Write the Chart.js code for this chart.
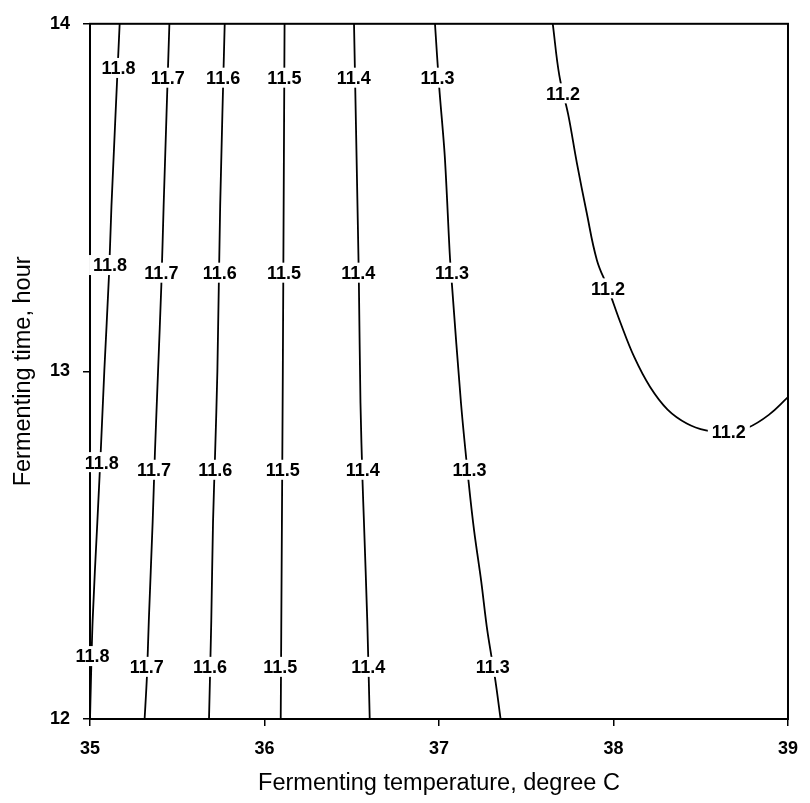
<!DOCTYPE html>
<html>
<head>
<meta charset="utf-8">
<script src="https://cdn.jsdelivr.net/npm/chart.js@4.4.1/dist/chart.umd.min.js"></script>
<style>
  html, body { margin: 0; padding: 0; background: #fff; }
</style>
</head>
<body>
<canvas id="chart" width="810" height="803"></canvas>
<script>
// contour lines (temperature x, time y)
const c118X = [35.170, 35.123, 35.109, 35.082, 35.062, 35.042, 35.015, 35.000];
const c118Y = [14.000, 13.477, 13.278, 13.001, 12.774, 12.566, 12.282, 12.000];
const c117X = [35.455, 35.422, 35.409, 35.390, 35.372, 35.359, 35.337, 35.326, 35.313];
const c117Y = [14.000, 13.477, 13.250, 13.001, 12.765, 12.566, 12.282, 12.120, 12.000];
const c116X = [35.772, 35.746, 35.730, 35.717, 35.705, 35.695, 35.682];
const c116Y = [14.000, 13.477, 13.001, 12.765, 12.566, 12.282, 12.000];
const c115X = [36.115, 36.110, 36.105, 36.099, 36.093];
const c115Y = [14.000, 13.500, 13.000, 12.500, 12.000];
const c114X = [36.513, 36.535, 36.541, 36.550, 36.562, 36.570, 36.589, 36.603];
const c114Y = [14.000, 13.422, 13.251, 12.909, 12.681, 12.566, 12.282, 12.000];
const c113X = [36.977, 37.001, 37.033, 37.062, 37.074, 37.126, 37.170, 37.202, 37.242, 37.277, 37.323, 37.353];
const c113Y = [14.000, 13.819, 13.620, 13.335, 13.251, 12.909, 12.681, 12.539, 12.396, 12.254, 12.111, 12.000];
const c112X = [37.652, 37.690, 37.740, 37.790, 37.845, 37.905, 37.969, 38.040, 38.120, 38.210, 38.310, 38.420, 38.530, 38.655, 38.770, 38.890, 39.000];
const c112Y = [14.000, 13.850, 13.740, 13.600, 13.460, 13.320, 13.239, 13.140, 13.040, 12.955, 12.890, 12.850, 12.830, 12.823, 12.838, 12.875, 12.926];

// contour labels
const labelText = ["11.8", "11.8", "11.8", "11.8",
                   "11.7", "11.7", "11.7", "11.7",
                   "11.6", "11.6", "11.6", "11.6",
                   "11.5", "11.5", "11.5", "11.5",
                   "11.4", "11.4", "11.4", "11.4",
                   "11.3", "11.3", "11.3", "11.3",
                   "11.2", "11.2", "11.2"];
const labelX = [35.163, 35.115, 35.067, 35.014,
                35.445, 35.409, 35.367, 35.325,
                35.763, 35.743, 35.718, 35.688,
                36.114, 36.112, 36.104, 36.090,
                36.511, 36.537, 36.563, 36.594,
                36.992, 37.075, 37.175, 37.308,
                37.711, 37.969, 38.661];
const labelY = [13.873, 13.306, 12.739, 12.181,
                13.845, 13.284, 12.717, 12.150,
                13.845, 13.284, 12.717, 12.150,
                13.845, 13.284, 12.717, 12.150,
                13.845, 13.284, 12.717, 12.150,
                13.845, 13.284, 12.717, 12.150,
                13.800, 13.239, 12.827];

const xTitle = "Fermenting temperature, degree C";
const yTitle = "Fermenting time, hour";

function pts(xs, ys){
  return xs.map((x, i) => ({x: x, y: ys[i]}));
}

function contour(xs, ys, tension){
  return {
    data: pts(xs, ys),
    showLine: true,
    borderColor: "#000",
    borderWidth: 1.8,
    pointRadius: 0,
    tension: tension,
    fill: false
  };
}

const labelPlugin = {
  id: "contourLabels",
  beforeDatasetsDraw(chart){
    const a = chart.chartArea;
    const ctx = chart.ctx;
    ctx.save();
    ctx.strokeStyle = "#000";
    ctx.lineWidth = 2;
    ctx.strokeRect(a.left, a.top, a.right - a.left, a.bottom - a.top);
    ctx.restore();
  },
  afterDatasetsDraw(chart){
    const ctx = chart.ctx;
    const xs = chart.scales.x, ys = chart.scales.y;
    ctx.save();
    ctx.font = "bold 18px 'Liberation Sans', Arial, sans-serif";
    ctx.textAlign = "center";
    ctx.textBaseline = "alphabetic";
    for(let i = 0; i < labelText.length; i++){
      const px = xs.getPixelForValue(labelX[i]);
      const py = ys.getPixelForValue(labelY[i]);
      const w = ctx.measureText(labelText[i]).width;
      ctx.fillStyle = "#fff";
      ctx.fillRect(px - w/2 - 4, py - 10, w + 8, 20);
      ctx.fillStyle = "#000";
      ctx.fillText(labelText[i], px, py + 6.4);
    }
    ctx.restore();
  }
};

const tickFont = {family: "'Liberation Sans', Arial, sans-serif", size: 18, weight: "bold"};
const titleFont = {family: "'Liberation Sans', Arial, sans-serif", size: 23.5, weight: "normal"};

const pad = {top: 17, right: 14, left: 0, bottom: 0};

const chart = new Chart(document.getElementById("chart"), {
  type: "scatter",
  data: {
    datasets: [
      contour(c118X, c118Y, 0.3),
      contour(c117X, c117Y, 0.3),
      contour(c116X, c116Y, 0.3),
      contour(c115X, c115Y, 0.3),
      contour(c114X, c114Y, 0.3),
      contour(c113X, c113Y, 0.3),
      contour(c112X, c112Y, 0.4)
    ]
  },
  options: {
    responsive: false,
    animation: false,
    layout: {padding: pad},
    plugins: {legend: {display: false}, tooltip: {enabled: false}},
    scales: {
      x: {
        type: "linear", min: 35, max: 39,
        ticks: {stepSize: 1, color: "#000", font: tickFont, padding: 12},
        grid: {drawOnChartArea: false, tickLength: 7, color: "#000", lineWidth: 1.5},
        border: {color: "#000", width: 2},
        title: {display: true, text: xTitle, color: "#000", font: titleFont, padding: {top: 0, bottom: 5}},
        afterFit(s){ s.height = 84; }
      },
      y: {
        type: "linear", min: 12, max: 14,
        ticks: {stepSize: 1, color: "#000", font: tickFont, padding: 13},
        grid: {drawOnChartArea: false, tickLength: 7, color: "#000", lineWidth: 1.5},
        border: {color: "#000", width: 2},
        title: {display: true, text: yTitle, color: "#000", font: titleFont, padding: {top: 9, bottom: 0}},
        afterFit(s){ s.width = 90; }
      }
    }
  },
  plugins: [labelPlugin]
});

// nudge the padding so the plot frame sits where the reference has it
for(let k = 0; k < 3; k++){
  const area = chart.chartArea;
  pad.top += 17 - area.top;
  pad.right += area.right - 796;
  pad.left += 90 - area.left;
  chart.options.layout.padding = {top: pad.top, right: pad.right, left: pad.left, bottom: pad.bottom};
  chart.update();
}
</script>
</body>
</html>
